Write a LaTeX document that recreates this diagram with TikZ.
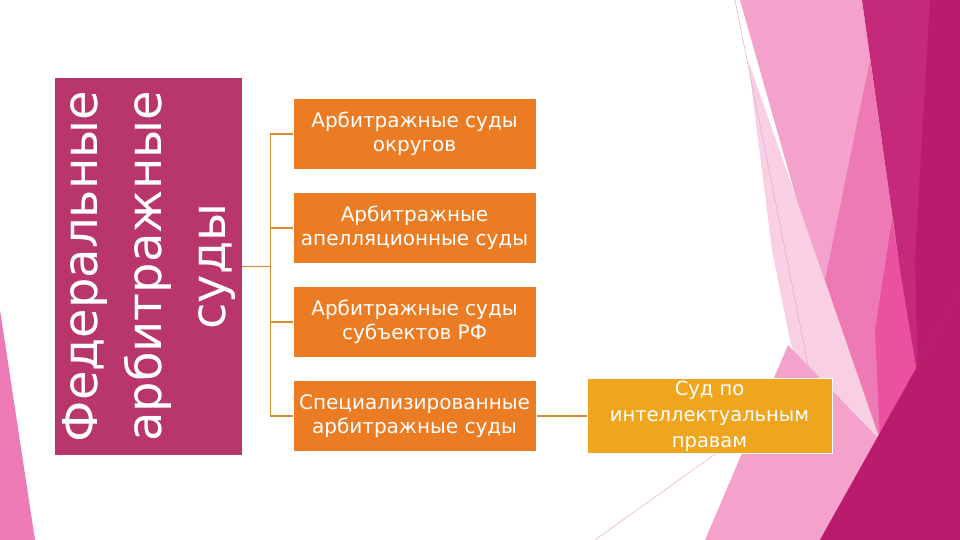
\documentclass[tikz,border=0pt]{standalone}
\usepackage{fontspec}
\setmainfont{DejaVu Sans}
\usetikzlibrary{positioning}
\definecolor{FedMagenta}{HTML}{B8366B}
\definecolor{CourtOrange}{HTML}{EC7C23}
\definecolor{CourtGold}{HTML}{EFA51E}
\definecolor{LinkOrange}{HTML}{DD8A35}
\definecolor{PinkPale}{HTML}{F8CFE3}
\definecolor{PinkLight}{HTML}{F4A2CB}
\definecolor{PinkMid}{HTML}{EE7AB5}
\definecolor{PinkHot}{HTML}{E8529F}
\definecolor{PinkDeep}{HTML}{C42A79}
\definecolor{PinkMix}{HTML}{CC3C85}
\definecolor{PinkDark}{HTML}{BA1C6D}
\tikzset{
  fedbox/.style={rectangle, fill=FedMagenta, text=white, minimum width=377pt, minimum height=187pt, font=\fontsize{48}{64}\selectfont, align=center, inner sep=0pt},
  courtbox/.style={rectangle, draw=white, line width=1pt, fill=CourtOrange, text=white, minimum width=243pt, minimum height=71pt, font=\fontsize{20}{24}\selectfont, align=center, inner sep=2pt},
  ipbox/.style={courtbox, fill=CourtGold, minimum width=245pt, minimum height=75pt, font=\fontsize{19.5}{26}\selectfont},
  link/.style={LinkOrange, line width=1.2pt},
  facetline/.style={draw=PinkDeep!40, line width=0.5pt}
}

\begin{document}
\begin{tikzpicture}[x=1pt, y=-1pt, node distance=22pt]
  \useasboundingbox (0,0) rectangle (960,540);
  \fill[white] (0,0) rectangle (960,540);

  % background facets
  \fill[PinkMid] (0,310) -- (35,540) -- (0,540) -- cycle;
  \fill[PinkLight] (740,0) -- (862,0) -- (900,270) -- (918,380) -- (880,440) -- (825,300) -- cycle;
  \fill[PinkMid] (870,60) -- (900,270) -- (918,380) -- (880,440) -- (825,280) -- cycle;
  \fill[PinkPale] (748,60) -- (828,290) -- (880,440) -- (830,470) -- (790,340) -- (772,250) -- cycle;
  \fill[PinkLight] (705,540) -- (788,345) -- (880,440) -- (820,540) -- cycle;
  \fill[PinkHot] (892,220) -- (918,380) -- (880,440) -- (875,330) -- cycle;
  \fill[PinkDeep] (862,0) -- (960,0) -- (960,290) -- (918,380) -- (900,270) -- cycle;
  \fill[PinkDark] (930,0) -- (960,0) -- (960,290) -- (918,380) -- (915,260) -- cycle;
  \fill[PinkMix] (880,440) -- (918,380) -- (960,290) -- (820,540) -- cycle;
  \fill[PinkDark] (820,540) -- (960,290) -- (960,540) -- cycle;
  \draw[facetline] (735,0) -- (812,385) -- (595,540);

  % diagram
  \node[fedbox, rotate=90] (fed) at (148.5,266.5) {Федеральные\\арбитражные\\суды};

  \node[courtbox] (okrug) at (414.5,134) {Арбитражные суды\\округов};
  \node[courtbox, below=of okrug] (apell) {Арбитражные\\апелляционные суды};
  \node[courtbox, below=of apell] (subj) {Арбитражные суды\\субъектов РФ};
  \node[courtbox, below=of subj] (spec) {Специализированные\\арбитражные суды};

  \node[ipbox, right=50pt of spec] (ip) {Суд по\\интеллектуальным\\правам};

  % fed.south is the right side of the turned box
  \coordinate[right=28pt of fed.south] (hub);
  \draw[link] (fed.south) -- (hub);
  \foreach \c in {okrug,apell,subj,spec}
    \draw[link] (\c.west) -| (hub);
  \draw[link] (spec.east) -- (ip.west);
\end{tikzpicture}
\end{document}
